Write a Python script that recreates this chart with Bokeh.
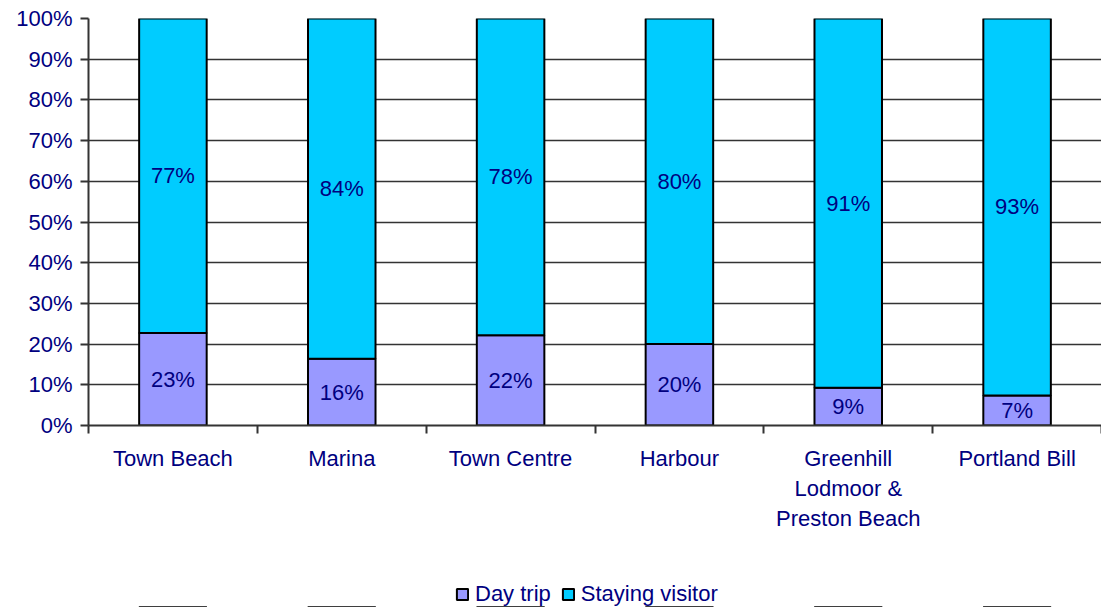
from bokeh.plotting import figure
from bokeh.layouts import column
from bokeh.models import (ColumnDataSource, FixedTicker, NumeralTickFormatter,
                          Range1d, Legend, LegendItem, LabelSet)
from bokeh.core.properties import value
from bokeh.embed import file_html
from bokeh.resources import INLINE

categories = ["Town Beach", "Marina", "Town Centre", "Harbour",
              "Greenhill\nLodmoor &\nPreston Beach", "Portland Bill"]
day_trip = [22.7, 16.4, 22.2, 20.0, 9.3, 7.4]
staying = [round(100 - d, 1) for d in day_trip]
series_names = ["Day trip", "Staying visitor"]
colors = ["#9999FF", "#00CCFF"]
yticks = [0, 10, 20, 30, 40, 50, 60, 70, 80, 90, 100]

n = len(categories)
xs = [i + 0.5 for i in range(n)]
d = [v / 100 for v in day_trip]
s = [v / 100 for v in staying]
src = ColumnDataSource(dict(
    x=xs, day=d, stay=s,
    day_mid=[v / 2 for v in d],
    stay_mid=[a + b / 2 for a, b in zip(d, s)],
    day_lab=[f"{round(v)}%" for v in day_trip],
    stay_lab=[f"{round(v)}%" for v in staying],
))

NAVY = "#000080"
FONT = "Liberation Sans"
FS = "22px"

p = figure(frame_width=1013, frame_height=407, x_range=Range1d(0, n), y_range=Range1d(0, 1),
           output_backend="svg", toolbar_location=None,
           min_border_left=88, min_border_right=0, min_border_top=18,
           min_border_bottom=150)
p.outline_line_color = None
p.background_fill_color = "white"

r = p.vbar_stack(["day", "stay"], x="x", width=0.4, source=src,
                 fill_color=colors, line_color="black", line_width=2)

for ycol, tcol in (("day_mid", "day_lab"), ("stay_mid", "stay_lab")):
    p.add_layout(LabelSet(x="x", y=ycol, text=tcol, source=src,
                          text_align="center", text_baseline="middle",
                          text_color=NAVY, text_font=value(FONT), text_font_size=value(FS)))

# y axis
p.yaxis.ticker = FixedTicker(ticks=[t / 100 for t in yticks])
p.yaxis.formatter = NumeralTickFormatter(format="0%")
p.yaxis.axis_line_color = "#333333"
p.yaxis.axis_line_width = 2
p.yaxis.major_tick_line_color = "#333333"
p.yaxis.major_tick_line_width = 2
p.yaxis.major_tick_out = 8
p.yaxis.major_tick_in = 0
p.yaxis.minor_tick_line_color = None
p.yaxis.major_label_text_font = FONT
p.yaxis.major_label_text_font_size = FS
p.yaxis.major_label_text_color = NAVY
p.yaxis.major_label_standoff = 8

# x axis
p.xaxis.ticker = FixedTicker(ticks=xs, minor_ticks=list(range(n + 1)))
p.xaxis.major_label_overrides = {x: c for x, c in zip(xs, categories)}
p.xaxis.axis_line_color = "#333333"
p.xaxis.axis_line_width = 2
p.xaxis.major_tick_line_color = None
p.xaxis.minor_tick_line_color = "#333333"
p.xaxis.minor_tick_line_width = 2
p.xaxis.minor_tick_out = 8
p.xaxis.minor_tick_in = 0
p.xaxis.major_label_text_font = FONT
p.xaxis.major_label_text_font_size = FS
p.xaxis.major_label_text_color = NAVY
p.xaxis.major_label_standoff = 12

p.xgrid.grid_line_color = None
p.ygrid.ticker = FixedTicker(ticks=[t / 100 for t in yticks])
p.ygrid.grid_line_color = "#333333"
p.ygrid.grid_line_width = 1.5

# legend strip below the chart (its bars sit below the strip's visible range)
lg = figure(width=1101, height=32, output_backend="svg", toolbar_location=None,
            x_axis_location=None, y_axis_location=None,
            min_border_left=0, min_border_right=0, min_border_top=0, min_border_bottom=0,
            x_range=Range1d(0, n), y_range=Range1d(10, 11))
lg.outline_line_color = None
lg.xgrid.grid_line_color = None
lg.ygrid.grid_line_color = None
lr = lg.vbar_stack(["day", "stay"], x="x", width=0.4, source=src,
                   fill_color=colors, line_color="black", line_width=2)
legend = Legend(items=[LegendItem(label=nm, renderers=[rr]) for nm, rr in zip(series_names, lr)],
                orientation="horizontal", location=(367, 0),
                label_text_font=FONT, label_text_font_size=FS,
                label_text_color=NAVY, glyph_width=14, glyph_height=14,
                spacing=10, label_standoff=6, border_line_color=None,
                background_fill_alpha=0, margin=0, padding=0)
lg.add_layout(legend, "center")

open("out.html", "w").write(file_html(column(p, lg, spacing=0), INLINE))
